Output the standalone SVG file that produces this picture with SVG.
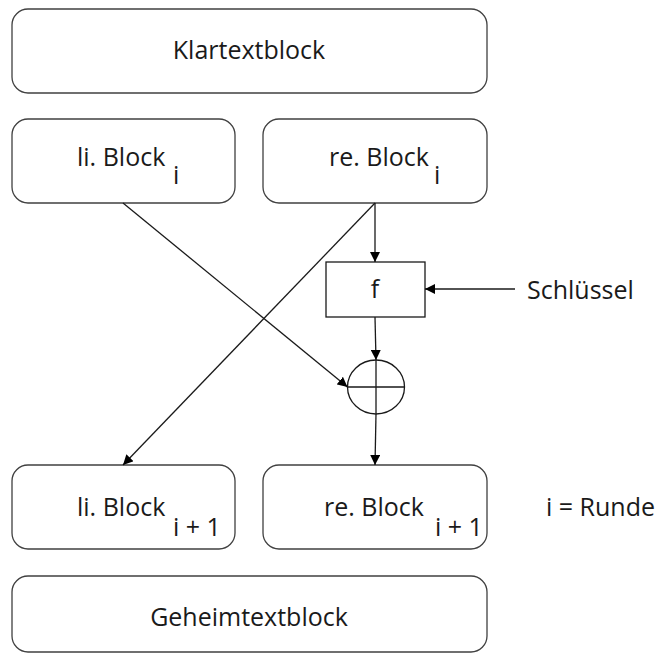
<svg xmlns="http://www.w3.org/2000/svg" width="661" height="656" viewBox="0 0 661 656">
<defs>
<marker id="ah" viewBox="0 0 10 10" refX="10" refY="5" markerWidth="10" markerHeight="10" markerUnits="userSpaceOnUse" orient="auto">
<path d="M0,0 L10,5 L0,10 z" fill="#000"/>
</marker>
<style>
.box{fill:#fff;stroke:#404040;stroke-width:1.3}
.t{font-family:"Open Sans","Liberation Sans",sans-serif;font-size:25px;fill:#1a1a1a}
.c{stroke:#1a1a1a;stroke-width:1.3;fill:none}
</style>
</defs>
<rect width="661" height="656" fill="#fff"/>
<g id="klartext"><rect class="box" x="12" y="9" width="475" height="84" rx="16"/><text class="t" x="249" y="59" text-anchor="middle">Klartextblock</text></g>
<g id="li_i"><rect class="box" x="12" y="119" width="223" height="84" rx="16"/><text class="t" x="77" y="166">li. Block</text><text class="t" x="173" y="184">i</text></g>
<g id="re_i"><rect class="box" x="263" y="119" width="224" height="84" rx="16"/><text class="t" x="329" y="166">re. Block</text><text class="t" x="434" y="184">i</text></g>
<g id="f"><rect x="326" y="262" width="99" height="55" fill="#fff" stroke="#1a1a1a" stroke-width="1.3"/><text class="t" x="375" y="298" text-anchor="middle">f</text></g>
<g id="key"><text class="t" x="527" y="299">Schlüssel</text></g>
<g id="xor"><ellipse cx="376" cy="387" rx="28.5" ry="27" fill="#fff" stroke="#1a1a1a" stroke-width="1.3"/><path class="c" d="M347.5,387 H404.5 M376,360 V414"/></g>
<g id="li_i1"><rect class="box" x="12" y="465" width="223" height="84" rx="16"/><text class="t" x="77" y="516">li. Block</text><text class="t" x="173" y="536">i + 1</text></g>
<g id="re_i1"><rect class="box" x="263" y="465" width="224" height="84" rx="16"/><text class="t" x="324" y="516">re. Block</text><text class="t" x="435" y="536">i + 1</text></g>
<g id="runde"><text class="t" x="546" y="516">i = Runde</text></g>
<g id="geheim"><rect class="box" x="12" y="576" width="475" height="76" rx="16"/><text class="t" x="249" y="626" text-anchor="middle">Geheimtextblock</text></g>
<g id="connectors">
<path class="c" d="M375,203 V262" marker-end="url(#ah)"/>
<path class="c" d="M515,289 H425" marker-end="url(#ah)"/>
<path class="c" d="M375,317 L376,360" marker-end="url(#ah)"/>
<path class="c" d="M123,203 L347.5,387" marker-end="url(#ah)"/>
<path class="c" d="M375,203 L123,465" marker-end="url(#ah)"/>
<path class="c" d="M376,414 L375,465" marker-end="url(#ah)"/>
</g>
</svg>
